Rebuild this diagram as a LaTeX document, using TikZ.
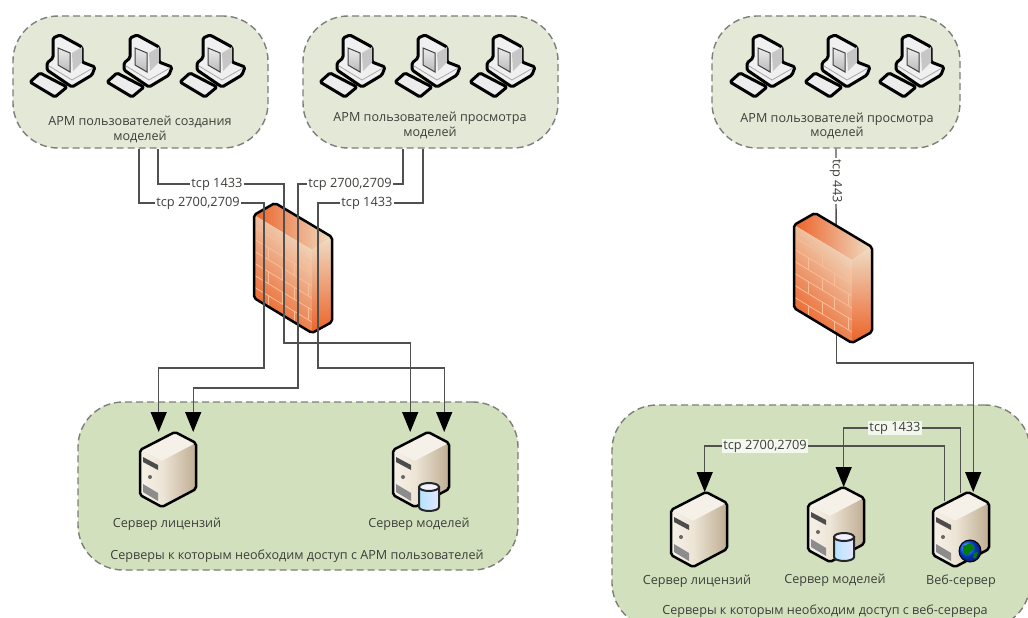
\documentclass[tikz,border=0pt]{standalone}
\usepackage{fontspec}
\setmainfont{Open Sans}
\usetikzlibrary{arrows.meta}
\definecolor{zonepale}{HTML}{E3E9D6}
\definecolor{zonegreen}{HTML}{D3E0BD}
\definecolor{dashgrey}{HTML}{7C7F7A}
\definecolor{wiregrey}{HTML}{505050}
\definecolor{textgrey}{HTML}{3C3F3A}
\definecolor{brick}{HTML}{EC6228}
\definecolor{brickmid}{HTML}{F08A58}
\definecolor{brickpale}{HTML}{EFDCC4}
\definecolor{mortar}{HTML}{F9BE98}
\definecolor{srvlight}{HTML}{F6F1E8}
\definecolor{srvcream}{HTML}{EDE5D6}
\definecolor{srvtan}{HTML}{BFAD92}
\tikzset{
  zone/.style={draw=dashgrey,line width=1.4pt,dash pattern=on 7pt off 4pt,rounded corners=45pt,inner sep=0pt},
  txt/.style={font=\fontsize{12.6}{14.5}\selectfont,text=textgrey,align=center,inner sep=0pt},
  tcp/.style={font=\fontsize{12.8}{14}\selectfont,text=textgrey,inner sep=1pt},
  conn/.style={draw=wiregrey,line width=1.3pt,-{Triangle[black,length=20pt,width=16pt]}},
  wire/.style={draw=wiregrey,line width=1.3pt},
  srvbox/.style={anchor=north west,minimum width=56pt,minimum height=75pt,inner sep=0pt},
  fwbox/.style={anchor=north west,minimum width=78pt,minimum height=130pt,inner sep=0pt},
  pc/.pic={
    \draw[fill=gray!15,line width=3pt,rounded corners=1.5pt,line join=round] (2,47) -- (12,38) -- (39,52) -- (27,62) -- cycle;
    \draw[fill=gray!12,line width=3pt,rounded corners=1.5pt,line join=round] (25,3) -- (32,0) -- (54,12) -- (54,27) -- (67,32) -- (64,40) -- (44,52) -- (19,35) -- (19,28) -- (25,23) -- cycle;
    \fill[gray!45] (44,18) -- (54,12) -- (54,27) -- (45,36) -- cycle;
    \draw[gray!70,line width=.8pt] (21,31) -- (44,45) -- (65,33);
    \path[top color=gray!15,bottom color=gray!55] (30,13) -- (42,18) -- (42,37) -- (30,30) -- cycle;
    \draw[black!75,line width=1pt] (30,13) -- (42,18) -- (42,37) -- (30,30) -- cycle;
  },
  server/.pic={
    \fill[srvlight] (0,18) -- (35,0) -- (56,11) -- (22,29) -- cycle;
    \path[left color=srvlight,right color=srvcream] (0,18) -- (22,29) -- (22,75) -- (0,63) -- cycle;
    \path[left color=srvcream,right color=srvtan] (22,29) -- (56,11) -- (56,57) -- (22,75) -- cycle;
    \fill[black!70] (3,25) -- (18,33) -- (18,38) -- (3,30) -- cycle;
    \fill[black!45] (3,52) -- (18,61) -- (18,69) -- (3,60) -- cycle;
    \fill[black!60] (10,45) circle (2);
    \draw[line width=2.5pt,rounded corners=2pt,line join=round] (0,18) -- (35,0) -- (56,11) -- (56,57) -- (22,75) -- (0,63) -- cycle;
  },
  dbdisk/.pic={
    \draw[line width=2pt,draw=black!85,left color=blue!35!cyan!30,right color=blue!10] (-10,-10) -- (-10,10) arc (180:0:10 and 4) -- (10,-10) -- cycle;
    \draw[line width=2pt,draw=black!85,fill=blue!6] (0,-10) ellipse (10 and 4);
  },
  globe/.pic={
    \shade[ball color=blue!70!cyan,draw=black,line width=1pt] (0,0) circle (11);
    \fill[green!50!black] (-7,-5) -- (1,-8) -- (5,-3) -- (0,1) -- (-3,5) -- (-7,1) -- cycle;
    \fill[green!50!black] (4,2) -- (8,1) -- (6,7) -- (3,7) -- cycle;
  },
  firewall/.pic={
    \path[left color=brick,right color=brickpale] (0,12) -- (21,0) -- (78,34) -- (58,47) -- cycle;
    \path[left color=brick,middle color=brickmid,right color=brickpale,shading angle=135] (0,12) -- (58,47) -- (58,130) -- (0,95) -- cycle;
    \path[top color=brickpale,bottom color=brick] (58,47) -- (78,34) -- (78,119) -- (58,130) -- cycle;
    \foreach \r in {1,...,6}{
      \draw[mortar,line width=.8pt] (0,{12+\r*12}) -- (58,{47+\r*12});
      \pgfmathsetmacro\brickx{14+mod(\r,2)*14}
      \draw[mortar,line width=.8pt] (\brickx,{12+\r*12+.6*\brickx}) -- (\brickx,{24+\r*12+.6*\brickx});
      \draw[mortar,line width=.8pt] (\brickx+26,{12+\r*12+.6*\brickx+15.6}) -- (\brickx+26,{24+\r*12+.6*\brickx+15.6});
    }
    \draw[line width=2.5pt,rounded corners=2pt,line join=round] (0,12) -- (21,0) -- (78,34) -- (78,119) -- (58,130) -- (0,95) -- cycle;
  },
}
\begin{document}
\begin{tikzpicture}[x=1pt,y=-1pt]
\useasboundingbox (0,0) rectangle (1028,618);
\node[zone,fill=zonepale,minimum width=255pt,minimum height=132pt] (zoneA) at (140.5,82) {};
\node[zone,fill=zonepale,minimum width=255pt,minimum height=132pt] (zoneB) at (430.5,82) {};
\node[zone,fill=zonepale,minimum width=248pt,minimum height=132pt] (zoneC) at (836,82) {};
\node[zone,fill=zonegreen,minimum width=440pt,minimum height=168pt] (zoneD) at (298,486) {};
\node[zone,fill=zonegreen,minimum width=418pt,minimum height=223pt] (zoneE) at (821,516.5) {};

\foreach \x in {28,105,178,318,393,468,728,803,877}
  \pic at (\x,35) {pc};

\node[txt] (capA) at (140,129.5) {АРМ пользователей создания\\моделей};
\node[txt] (capB) at (430,125.5) {АРМ пользователей просмотра\\моделей};
\node[txt] (capC) at (837,126) {АРМ пользователей просмотра\\моделей};
\node[txt] (capD) at (297,556) {Серверы к которым необходим доступ с АРМ пользователей};
\node[txt] (capE) at (825,611) {Серверы к которым необходим доступ с веб-сервера};

\node[srvbox] (srvLicA) at (140,432) {};
\node[srvbox] (srvModA) at (393,432) {};
\node[srvbox] (srvLicB) at (671,492) {};
\node[srvbox] (srvModB) at (808,487) {};
\node[srvbox] (srvWeb) at (933,492) {};
\pic at (srvLicA.north west) {server};
\pic at (srvModA.north west) {server};
\pic at (srvLicB.north west) {server};
\pic at (srvModB.north west) {server};
\pic at (srvWeb.north west) {server};
\pic at (429,497) {dbdisk};
\pic at (844,547) {dbdisk};
\pic at (970,551) {globe};

\node[txt] (nameLicA) at (167,524) {Сервер лицензий};
\node[txt] (nameModA) at (419,524) {Сервер моделей};
\node[txt] (nameLicB) at (697,581) {Сервер лицензий};
\node[txt] (nameModB) at (835,580) {Сервер моделей};
\node[txt] (nameWeb) at (961,581) {Веб-сервер};

\node[fwbox] (fwA) at (254,203) {};
\node[fwbox] (fwB) at (794,213) {};
\pic at (fwA.north west) {firewall};
\draw[brick!75!black,line width=1.3pt] (264,222) -- (264,301);

\node[tcp] (tcpA1) at (198,203) {tcp 2700,2709};
\node[tcp] (tcpA2) at (217,184) {tcp 1433};
\node[tcp] (tcpB1) at (350,184) {tcp 2700,2709};
\node[tcp] (tcpB2) at (367,203) {tcp 1433};
\node[tcp,rotate=-90] (tcpC) at (836,181) {tcp 443};
\node[tcp,fill=white!75!zonegreen] (tcpE1) at (765,446) {tcp 2700,2709};
\node[tcp,fill=white!75!zonegreen] (tcpE2) at (895,428) {tcp 1433};

\coordinate (bendA1) at (264,368);
\coordinate (bendA2) at (284,343);
\coordinate (bendB1) at (298,388);
\coordinate (bendB2) at (318,368);
\coordinate (bendC) at (900,363);

\draw[conn] ([xshift=-1.5pt]zoneA.south) |- (tcpA1) -| (bendA1) -| ([xshift=-9.5pt]srvLicA.north);
\draw[conn] ([xshift=17.5pt]zoneA.south) |- (tcpA2) -| (bendA2) -| ([xshift=-11pt]srvModA.north);
\draw[conn] ([xshift=-27.5pt]zoneB.south) |- (tcpB1) -| (bendB1) -| ([xshift=25pt]srvLicA.north);
\draw[conn] ([xshift=-7.5pt]zoneB.south) |- (tcpB2) -| (bendB2) -| ([xshift=23pt]srvModA.north);
\draw[wire] (zoneC.south) -- (tcpC) -- ([xshift=3pt,yshift=-30pt]fwB.north);
\draw[conn] ([xshift=3pt,yshift=30pt]fwB.south) |- (bendC) -| ([xshift=12pt]srvWeb.north);
\draw[conn] ([xshift=-17pt,yshift=-9pt]srvWeb.north) |- (tcpE1) -| ([xshift=5.5pt]srvLicB.north);
\draw[conn] ([xshift=-1pt,yshift=-1pt]srvWeb.north) |- (tcpE2) -| ([xshift=7.5pt]srvModB.north);

\pic at (fwB.north west) {firewall};
\end{tikzpicture}
\end{document}
